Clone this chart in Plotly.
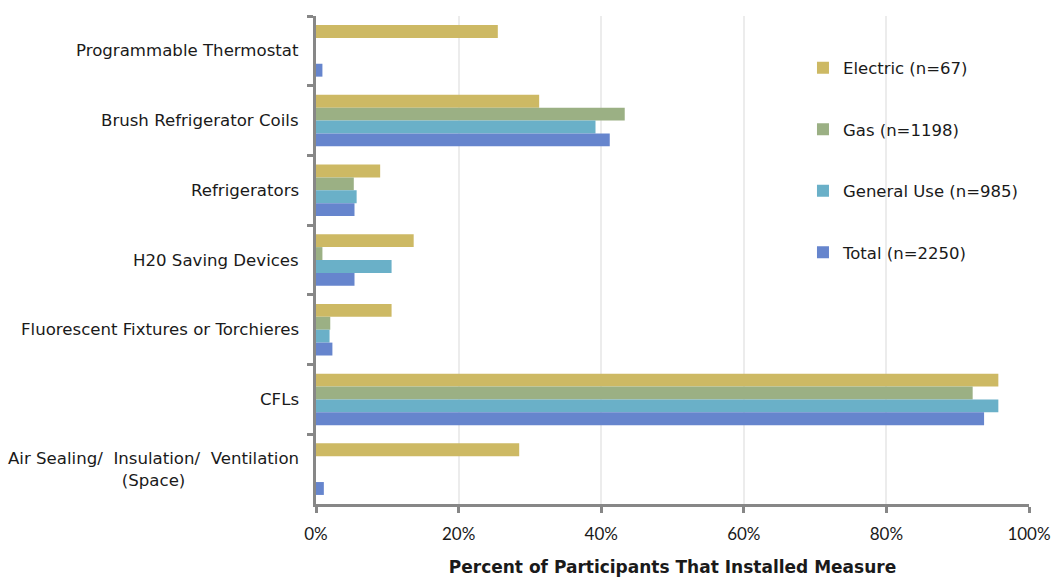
import plotly.graph_objects as go

# Measures, listed top to bottom
measures = [
    "Programmable Thermostat",
    "Brush Refrigerator Coils",
    "Refrigerators",
    "H20 Saving Devices",
    "Fluorescent Fixtures or Torchieres",
    "CFLs",
    "Air Sealing/&nbsp; Insulation/&nbsp; Ventilation<br>(Space)",
]

# Share of participants that installed each measure (%)
electric = [25.5, 31.3, 9.0, 13.7, 10.6, 95.7, 28.5]
gas = [0.0, 43.3, 5.3, 0.9, 2.0, 92.1, 0.0]
general_use = [0.0, 39.2, 5.7, 10.6, 1.9, 95.7, 0.0]
total = [0.9, 41.2, 5.4, 5.4, 2.3, 93.7, 1.1]

series_names = ["Electric (n=67)", "Gas (n=1198)", "General Use (n=985)", "Total (n=2250)"]
series_values = [electric, gas, general_use, total]
series_colors = ["#CDB964", "#9BB084", "#6AB0C8", "#6685CD"]

x_ticks = [0, 20, 40, 60, 80, 100]
x_tick_labels = ["0%", "20%", "40%", "60%", "80%", "100%"]

FONT = "DejaVu Sans"
TEXT = "#1a1a1a"
AXIS = "#878787"

fig = go.Figure()
for i, (name, vals, col) in enumerate(zip(series_names, series_values, series_colors)):
    fig.add_trace(go.Bar(
        y=measures, x=vals, name=name, orientation="h",
        marker=dict(color=col, line=dict(width=0)),
        legendgroup=f"g{i}",
    ))

# Category labels: each block of text centred, block right-aligned at the axis
for m in measures:
    fig.add_annotation(
        x=0, xref="paper", y=m, yref="y", text=m, showarrow=False,
        xanchor="right", align="center", xshift=-15,
        font=dict(family=FONT, size=16.6, color=TEXT),
    )

fig.update_layout(
    template="none",
    width=1055, height=577,
    margin=dict(l=316, r=26, t=16, b=73),
    paper_bgcolor="white", plot_bgcolor="white",
    barmode="group", bargap=0.26, bargroupgap=0,
    font=dict(family=FONT, size=16, color=TEXT),
    legend=dict(
        x=0.683, y=0.929, xanchor="left", yanchor="top",
        font=dict(family=FONT, size=16.5, color=TEXT),
        tracegroupgap=37, itemwidth=30, bgcolor="rgba(0,0,0,0)",
        borderwidth=0,
    ),
    showlegend=True,
)

fig.update_xaxes(
    range=[0, 100], tickvals=x_ticks, ticktext=x_tick_labels,
    showgrid=True, gridcolor="#ececec", gridwidth=2,
    showline=True, linecolor=AXIS, linewidth=3,
    ticks="outside", ticklen=6, tickwidth=3, tickcolor=AXIS,
    tickfont=dict(family="Lato", size=17, color=TEXT),
    ticklabelstandoff=7,
    zeroline=False, automargin=False,
    title=dict(text="<b>Percent of Participants That Installed Measure</b>",
               font=dict(family=FONT, size=17, color=TEXT), standoff=18),
)

fig.update_yaxes(
    autorange="reversed", showticklabels=False,
    showline=True, linecolor=AXIS, linewidth=3,
    ticks="outside", ticklen=6, tickwidth=3, tickcolor=AXIS,
    tickson="boundaries", showgrid=False, zeroline=False, automargin=False,
)

fig.write_html("out.html")
